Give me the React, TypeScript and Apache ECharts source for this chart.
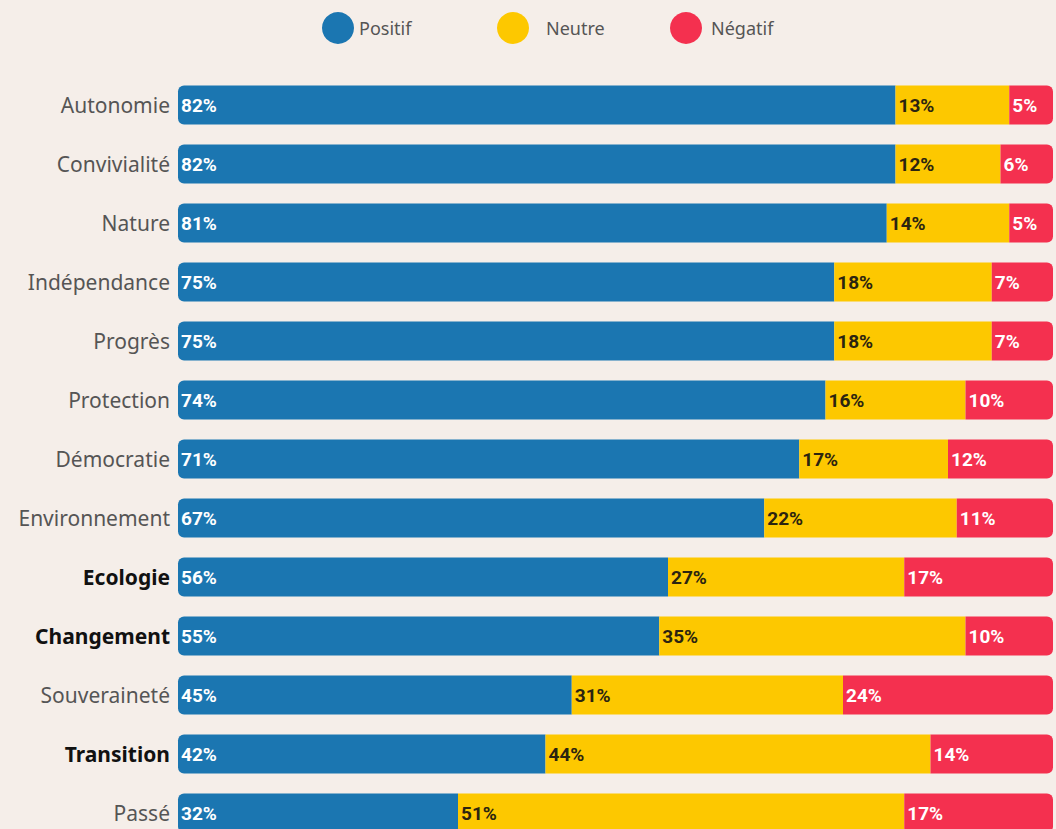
import React, { useEffect, useRef } from "react";
import * as echarts from "echarts";

const categories = [
  "Autonomie",
  "Convivialité",
  "Nature",
  "Indépendance",
  "Progrès",
  "Protection",
  "Démocratie",
  "Environnement",
  "Ecologie",
  "Changement",
  "Souveraineté",
  "Transition",
  "Passé",
];
const boldCategories = ["Ecologie", "Changement", "Transition"];
const seriesNames = ["Positif", "Neutre", "Négatif"];
const positif = [82, 82, 81, 75, 75, 74, 71, 67, 56, 55, 45, 42, 32];
const neutre = [13, 12, 14, 18, 18, 16, 17, 22, 27, 35, 31, 44, 51];
const negatif = [5, 6, 5, 7, 7, 10, 12, 11, 17, 10, 24, 14, 17];

const BLUE = "#1b76b1";
const YELLOW = "#fdc800";
const RED = "#f4304f";
const BG = "#f5eee9";

export default function App() {
  const ref = useRef<HTMLDivElement>(null);
  useEffect(() => {
    if (!ref.current) return;
    const chart = echarts.init(ref.current, null, { renderer: "svg" });
    const labelBase = {
      show: true,
      position: "insideLeft" as const,
      distance: 3,
      fontFamily: "Roboto",
      fontWeight: "bold" as const,
      fontSize: 19,
      formatter: "{c}%",
    };
    const legendLefts = [322, 497, 670];
    const legendPads = [0, 12, 4];
    chart.setOption({
      animation: false,
      backgroundColor: BG,
      legend: seriesNames.map((n, i) => ({
        top: 12,
        left: legendLefts[i],
        padding: 0,
        icon: "circle",
        itemWidth: 32,
        itemHeight: 32,
        itemGap: 0,
        textStyle: {
          fontFamily: "Noto Sans",
          fontSize: 18,
          color: "#555",
          padding: [0, 0, 0, legendPads[i]],
        },
        data: [n],
      })),
      grid: { left: 178, right: 3, top: 75.5, height: 767, containLabel: false },
      xAxis: {
        type: "value",
        min: 0,
        max: 100,
        show: false,
      },
      yAxis: {
        type: "category",
        inverse: true,
        data: categories,
        axisLine: { show: false },
        axisTick: { show: false },
        axisLabel: {
          margin: 8,
          fontFamily: "Noto Sans",
          fontSize: 21,
          color: "#555",
          formatter: (v: string) =>
            boldCategories.includes(v) ? `{b|${v}}` : `{n|${v}}`,
          rich: {
            n: { fontFamily: "Noto Sans", fontSize: 21, color: "#555" },
            b: {
              fontFamily: "Noto Sans",
              fontSize: 21,
              fontWeight: "bold",
              color: "#111",
            },
          },
        },
      },
      series: [
        {
          name: "Positif",
          type: "bar",
          stack: "s",
          barWidth: 39,
          data: positif,
          itemStyle: { color: BLUE, borderRadius: [6, 0, 0, 6] },
          label: { ...labelBase, color: "#fff" },
        },
        {
          name: "Neutre",
          type: "bar",
          stack: "s",
          barWidth: 39,
          data: neutre,
          itemStyle: { color: YELLOW },
          label: { ...labelBase, color: "#2b2410" },
        },
        {
          name: "Négatif",
          type: "bar",
          stack: "s",
          barWidth: 39,
          data: negatif,
          itemStyle: { color: RED, borderRadius: [0, 6, 6, 0] },
          label: { ...labelBase, color: "#fff" },
        },
      ],
    });
    return () => chart.dispose();
  }, []);
  return (
    <div
      style={{
        position: "absolute",
        left: 0,
        top: 0,
        width: 1056,
        height: 829,
        overflow: "hidden",
        background: BG,
      }}
    >
      <div ref={ref} style={{ width: 1056, height: 860 }} />
    </div>
  );
}
